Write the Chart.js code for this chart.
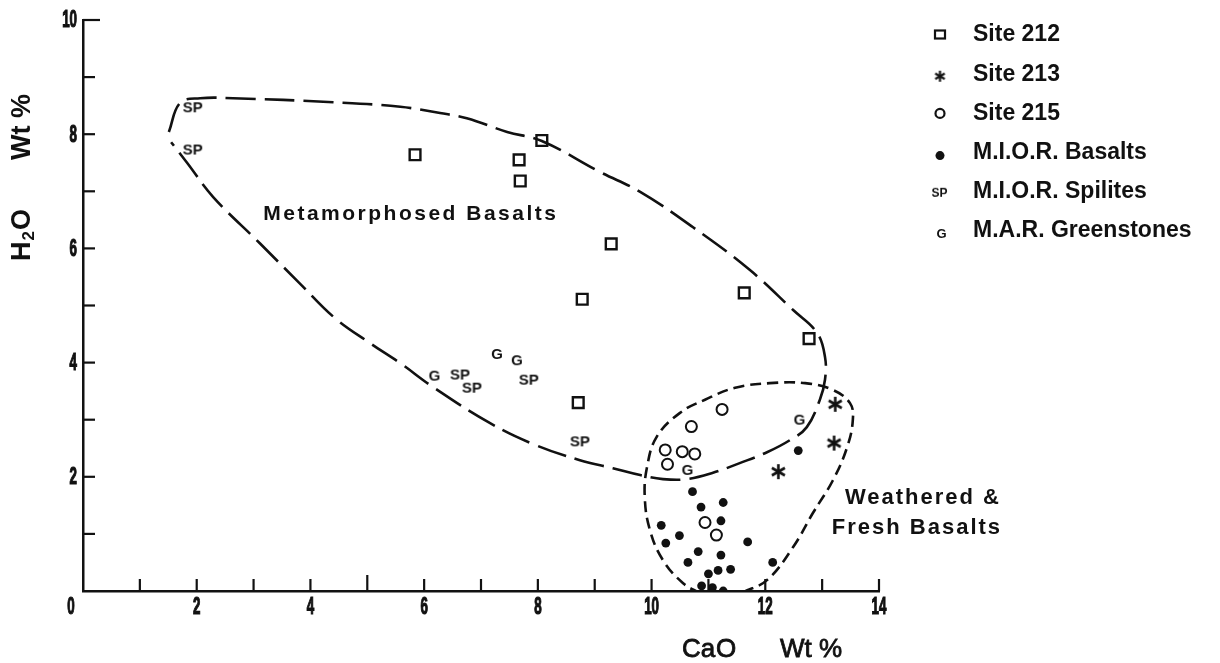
<!DOCTYPE html>
<html>
<head>
    <meta charset="utf-8">
    <title>H2O vs CaO</title>
    <script src="https://cdn.jsdelivr.net/npm/chart.js"></script>
    <style>
        html, body { margin: 0; padding: 0; background: #fff; }
        #wrap { position: relative; width: 1220px; height: 663px; }
    </style>
</head>
<body>
    <div id="wrap">
        <canvas id="plot" width="1220" height="663"></canvas>
    </div>
    <script>
        // values (CaO wt %, H2O wt %)
        var site212X = [5.84, 7.67, 7.69, 8.07, 9.29, 8.78, 11.63, 12.77, 8.71];
        var site212Y = [7.64, 7.55, 7.18, 7.89, 6.08, 5.11, 5.22, 4.42, 3.30];

        var site213X = [13.23, 13.21, 12.23];
        var site213Y = [3.27, 2.59, 2.09];

        var site215X = [11.24, 10.70, 10.24, 10.54, 10.76, 10.28, 10.94, 11.14];
        var site215Y = [3.18, 2.88, 2.47, 2.44, 2.40, 2.22, 1.20, 0.98];

        var miorBasaltX = [12.58, 10.72, 11.26, 10.87, 10.17, 11.22, 10.49, 10.25, 11.69, 10.82,
            11.22, 10.64, 12.13, 11.39, 11.17, 11.00, 10.88, 11.07, 11.26];
        var miorBasaltY = [2.46, 1.74, 1.55, 1.47, 1.15, 1.23, 0.97, 0.84, 0.86, 0.69,
            0.63, 0.50, 0.50, 0.38, 0.36, 0.30, 0.09, 0.06, 0.0];

        var spiliteX = [1.93, 1.93, 6.63, 6.84, 7.84, 8.74];
        var spiliteY = [8.48, 7.74, 3.80, 3.57, 3.71, 2.63];

        var greenstoneX = [6.18, 7.28, 7.63, 10.63, 12.60];
        var greenstoneY = [3.78, 4.16, 4.05, 2.13, 3.01];

        // field outlines (open at the left end, as drawn)
        var metaFieldX = [1.51, 1.71, 2.06, 2.64, 4.40, 5.58, 6.28, 6.75, 7.46, 8.07, 9.09, 9.80, 10.73,
            11.73, 12.49, 12.91, 13.05, 13.05, 12.96, 12.73, 12.43, 12.03, 11.55, 11.08, 10.62, 10.20,
            9.80, 9.32, 8.74, 7.95, 7.16, 6.16, 5.58, 5.05, 4.43, 3.82, 3.11, 2.29, 1.83, 1.55];
        var metaFieldY = [8.04, 8.55, 8.63, 8.63, 8.56, 8.48, 8.37, 8.28, 8.04, 7.88, 7.34, 6.99, 6.37,
            5.62, 4.92, 4.52, 4.10, 3.70, 3.35, 2.87, 2.64, 2.43, 2.24, 2.07, 1.96, 1.96,
            2.03, 2.15, 2.29, 2.56, 2.94, 3.57, 3.99, 4.34, 4.78, 5.38, 6.09, 6.90, 7.50, 7.86];

        // runs from the axis on the right, over the top, back down to the axis
        var freshFieldX = [11.61, 12.03, 12.49, 12.84, 13.19, 13.44, 13.54, 13.49, 13.19, 12.70, 12.08,
            11.47, 10.94, 10.50, 10.09, 9.92, 9.88, 9.97, 10.20, 10.55, 10.85];
        var freshFieldY = [-0.02, 0.19, 0.77, 1.37, 1.94, 2.52, 3.00, 3.29, 3.52, 3.64, 3.64,
            3.56, 3.35, 3.12, 2.70, 2.17, 1.65, 1.07, 0.54, 0.14, -0.04];

        var seriesNames = ['Site 212', 'Site 213', 'Site 215', 'M.I.O.R. Basalts', 'M.I.O.R. Spilites', 'M.A.R. Greenstones'];

        var ink = '#111';

        function pts(xs, ys) {
            return xs.map(function (x, i) { return { x: x, y: ys[i] }; });
        }

        // little canvases used as point symbols
        function textMark(txt, size) {
            var c = document.createElement('canvas');
            var g = c.getContext('2d');
            g.font = 'bold ' + size + 'px "Liberation Sans", Arial, sans-serif';
            var w = Math.ceil(g.measureText(txt).width) + 4;
            c.width = w;
            c.height = size + 4;
            g.font = 'bold ' + size + 'px "Liberation Sans", Arial, sans-serif';
            g.fillStyle = ink;
            g.textAlign = 'center';
            g.textBaseline = 'middle';
            g.fillText(txt, w / 2, (size + 4) / 2 + 1);
            return c;
        }

        function starMark(len, lw) {
            var c = document.createElement('canvas');
            var s = len + 4;
            c.width = s;
            c.height = s;
            var g = c.getContext('2d');
            g.strokeStyle = ink;
            g.lineWidth = lw;
            [90, 30, 150].forEach(function (a) {
                var r = a * Math.PI / 180;
                g.beginPath();
                g.moveTo(s / 2 - Math.cos(r) * len / 2, s / 2 - Math.sin(r) * len / 2);
                g.lineTo(s / 2 + Math.cos(r) * len / 2, s / 2 + Math.sin(r) * len / 2);
                g.stroke();
            });
            return c;
        }

        var spMark = textMark('SP', 15);
        var gMark = textMark('G', 15);
        var astMark = starMark(15, 2.6);

        // squeezed heavy digits like the original lettering
        function tickText(ctx, txt, x, y, align) {
            ctx.save();
            ctx.font = 'bold 23px "Liberation Sans", Arial, sans-serif';
            ctx.textBaseline = 'middle';
            ctx.textAlign = align;
            ctx.lineWidth = 1.2;
            ctx.strokeStyle = ink;
            ctx.translate(x, y);
            ctx.scale(0.58, 1);
            ctx.fillText(txt, 0, 0);
            ctx.strokeText(txt, 0, 0);
            ctx.restore();
        }

        // inward ticks, tick labels, titles, notes and key
        var decorations = {
            id: 'decorations',
            afterDraw: function (chart) {
                var ctx = chart.ctx;
                var xs = chart.scales.x, ys = chart.scales.y;
                var area = chart.chartArea;
                ctx.save();
                ctx.strokeStyle = ink;
                ctx.fillStyle = ink;
                ctx.lineWidth = 2.2;

                xs.ticks.forEach(function (t) {
                    if (t.value === 0) return;
                    var px = xs.getPixelForValue(t.value);
                    ctx.beginPath();
                    ctx.moveTo(px, area.bottom);
                    ctx.lineTo(px, area.bottom - (t.value === 5 ? 16 : 12));
                    ctx.stroke();
                    if (t.value % 2 === 0) tickText(ctx, String(t.value), px, area.bottom + 17, 'center');
                });
                ys.ticks.forEach(function (t) {
                    if (t.value === 0) return;
                    var py = ys.getPixelForValue(t.value);
                    ctx.beginPath();
                    ctx.moveTo(area.left, py);
                    ctx.lineTo(area.left + (t.value === 10 ? 17 : 12), py);
                    ctx.stroke();
                    if (t.value % 2 === 0) tickText(ctx, String(t.value), area.left - 6, py + 1, 'right');
                });
                tickText(ctx, '0', xs.getPixelForValue(0) - 12, area.bottom + 17, 'center');

                // field names
                ctx.textAlign = 'left';
                ctx.textBaseline = 'middle';
                ctx.font = 'bold 21px "Liberation Sans", Arial, sans-serif';
                ctx.letterSpacing = '2.5px';
                ctx.fillText('Metamorphosed Basalts', xs.getPixelForValue(3.17), ys.getPixelForValue(6.6));
                ctx.font = 'bold 22px "Liberation Sans", Arial, sans-serif';
                ctx.letterSpacing = '2px';
                ctx.fillText('Weathered &', xs.getPixelForValue(13.40), ys.getPixelForValue(1.63));
                ctx.fillText('Fresh Basalts', xs.getPixelForValue(13.17), ys.getPixelForValue(1.10));

                // x title
                ctx.letterSpacing = '0px';
                ctx.font = '26px "Liberation Sans", Arial, sans-serif';
                ctx.lineWidth = 0.8;
                ['Ca', 'O', 'Wt %'].forEach(function (s, i) {
                    var x = [682, 716, 780][i];
                    ctx.fillText(s, x, 650);
                    ctx.strokeText(s, x, 650);
                });

                // y title, rotated
                ctx.save();
                ctx.translate(23, 261);
                ctx.rotate(-Math.PI / 2);
                ctx.font = 'bold 27px "Liberation Sans", Arial, sans-serif';
                ctx.fillText('H', 0, 0);
                var hw = ctx.measureText('H').width;
                ctx.font = 'bold 17px "Liberation Sans", Arial, sans-serif';
                ctx.fillText('2', hw + 1, 6);
                var tw = ctx.measureText('2').width;
                ctx.font = 'bold 27px "Liberation Sans", Arial, sans-serif';
                ctx.fillText('O', hw + tw + 2, 0);
                ctx.fillText('Wt %', 101, 0);
                ctx.restore();

                // key
                var keyX = 940, textX = 973, rowY = 34, step = 39.2;
                ctx.font = 'bold 23px "Liberation Sans", Arial, sans-serif';
                ctx.lineWidth = 2.2;
                seriesNames.forEach(function (name, i) {
                    var y = rowY + i * step;
                    ctx.fillText(name, textX, y + 1);
                    if (i === 0) {
                        ctx.strokeRect(keyX - 5, y - 3.5, 10, 8);
                    } else if (i === 1) {
                        ctx.drawImage(starMark(11, 2.2), keyX - 7.5, y - 4.5);
                    } else if (i === 2) {
                        ctx.beginPath();
                        ctx.arc(keyX, y + 1, 4.5, 0, Math.PI * 2);
                        ctx.stroke();
                    } else if (i === 3) {
                        ctx.beginPath();
                        ctx.arc(keyX, y + 4, 4.5, 0, Math.PI * 2);
                        ctx.fill();
                    } else if (i === 4) {
                        ctx.drawImage(textMark('SP', 12), keyX - 11, y - 6);
                    } else {
                        ctx.drawImage(textMark('G', 13), keyX - 6, y - 5);
                    }
                });
                ctx.restore();
            }
        };

        var ctx = document.getElementById('plot').getContext('2d');
        var chart = new Chart(ctx, {
            type: 'scatter',
            data: {
                datasets: [{
                    label: 'Metamorphosed Basalts field',
                    data: pts(metaFieldX, metaFieldY),
                    showLine: true,
                    tension: 0.4,
                    pointRadius: 0,
                    borderColor: ink,
                    borderWidth: 2.6,
                    borderDash: [30, 9],
                    fill: false
                }, {
                    label: 'Weathered & Fresh Basalts field',
                    data: pts(freshFieldX, freshFieldY),
                    showLine: true,
                    tension: 0.4,
                    pointRadius: 0,
                    borderColor: ink,
                    borderWidth: 2.6,
                    borderDash: [11, 6],
                    fill: false
                }, {
                    label: seriesNames[0],
                    data: pts(site212X, site212Y),
                    pointStyle: 'rect',
                    pointRadius: 7.6,
                    backgroundColor: '#fff',
                    borderColor: ink,
                    borderWidth: 2.4
                }, {
                    label: seriesNames[1],
                    data: pts(site213X, site213Y),
                    pointStyle: astMark
                }, {
                    label: seriesNames[2],
                    data: pts(site215X, site215Y),
                    pointStyle: 'circle',
                    pointRadius: 5.5,
                    backgroundColor: '#fff',
                    borderColor: ink,
                    borderWidth: 2
                }, {
                    label: seriesNames[3],
                    data: pts(miorBasaltX, miorBasaltY),
                    pointStyle: 'circle',
                    pointRadius: 4.4,
                    backgroundColor: ink,
                    borderColor: ink,
                    borderWidth: 0
                }, {
                    label: seriesNames[4],
                    data: pts(spiliteX, spiliteY),
                    pointStyle: spMark
                }, {
                    label: seriesNames[5],
                    data: pts(greenstoneX, greenstoneY),
                    pointStyle: gMark
                }]
            },
            options: {
                responsive: false,
                animation: false,
                layout: {
                    padding: { left: 0, top: 20, right: 341, bottom: 0 }
                },
                plugins: {
                    legend: { display: false },
                    tooltip: { enabled: false }
                },
                scales: {
                    x: {
                        type: 'linear',
                        min: 0,
                        max: 14,
                        afterFit: function (scale) { scale.height = 72; },
                        grid: { display: false, drawTicks: false },
                        border: { display: true, color: ink, width: 2.5 },
                        ticks: { stepSize: 1, display: false, autoSkip: false }
                    },
                    y: {
                        type: 'linear',
                        min: 0,
                        max: 10,
                        afterFit: function (scale) { scale.width = 83; },
                        grid: { display: false, drawTicks: false },
                        border: { display: true, color: ink, width: 2.5 },
                        ticks: { stepSize: 1, display: false, autoSkip: false }
                    }
                }
            },
            plugins: [decorations]
        });
    </script>
</body>
</html>
